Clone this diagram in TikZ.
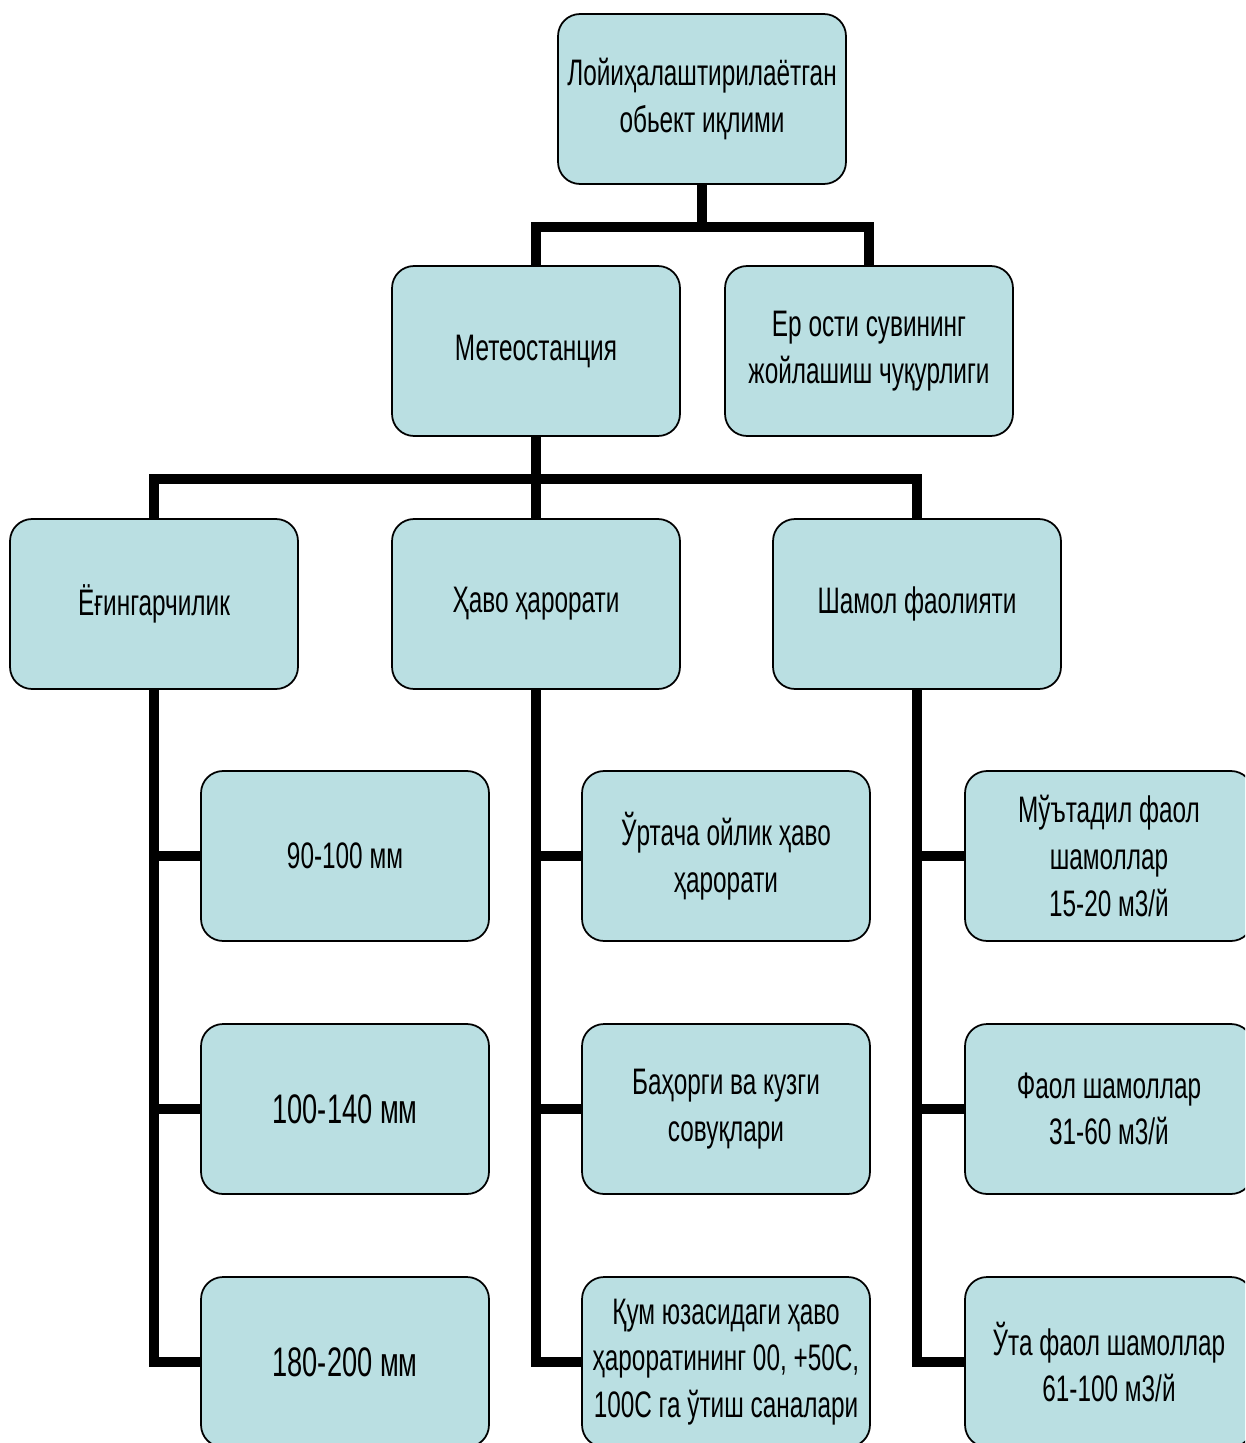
\documentclass[tikz,border=0pt]{standalone}
\usepackage{fontspec}
\setmainfont[FakeStretch=0.66]{Liberation Sans}
\definecolor{boxfill}{RGB}{186,223,226}
\tikzset{
  cell/.style={draw=black, line width=1pt, fill=boxfill, rounded corners=0.44cm,
    minimum width=5.76cm, minimum height=3.4cm, inner sep=0pt, align=center,
    font=\fontsize{21}{26.5}\selectfont},
  tree/.style={line width=0.19cm, draw=black}
}
\begin{document}
\begin{tikzpicture}[x=0.02cm, y=-0.02cm]
  \useasboundingbox (0,0) rectangle (1245,1443);
  \clip (0,0) rectangle (1245,1443);
  \node[cell] (top) at (702,99) {Лойиҳалаштирилаётган\\обьект иқлими};
  \node[cell] (meteo) at (536,351) {Метеостанция};
  \node[cell] (er) at (869,351) {Ер ости сувининг\\жойлашиш чуқурлиги};
  \node[cell] (yogin) at (154,604) {Ёғингарчилик};
  \node[cell] (havo) at (536,604) {Ҳаво ҳарорати};
  \node[cell] (shamol) at (917,604) {Шамол фаолияти};
  \node[cell, font=\fontsize{21}{26.5}\selectfont] (y1) at (345,856) {90-100 мм};
  \node[cell, font=\fontsize{23.5}{26.5}\selectfont] (y2) at (345,1109) {100-140 мм};
  \node[cell, font=\fontsize{23.5}{26.5}\selectfont] (y3) at (345,1362) {180-200 мм};
  \node[cell] (h1) at (726,856) {Ўртача ойлик ҳаво\\ҳарорати};
  \node[cell] (h2) at (726,1109) {Баҳорги ва кузги\\совуқлари};
  \node[cell] (h3) at (726,1362) {Қум юзасидаги ҳаво\\ҳароратининг 00, +50С,\\100С га ўтиш саналари};
  \node[cell] (s1) at (1109,856) {Мўътадил фаол\\шамоллар\\15-20 м3/й};
  \node[cell] (s2) at (1109,1109) {Фаол шамоллар\\31-60 м3/й};
  \node[cell] (s3) at (1109,1362) {Ўта фаол шамоллар\\61-100 м3/й};
  \draw[tree] (top.south) -- ++(0,42) -| (meteo.north);
  \draw[tree] (top.south) -- ++(0,42) -| (er.north);
  \foreach \c in {yogin,havo,shamol}
    \draw[tree] (meteo.south) -- ++(0,42) -| (\c.north);
  \foreach \c in {1,2,3} {
    \draw[tree] (yogin.south) |- (y\c.west);
    \draw[tree] (havo.south) |- (h\c.west);
    \draw[tree] (shamol.south) |- (s\c.west);
  }
\end{tikzpicture}
\end{document}
